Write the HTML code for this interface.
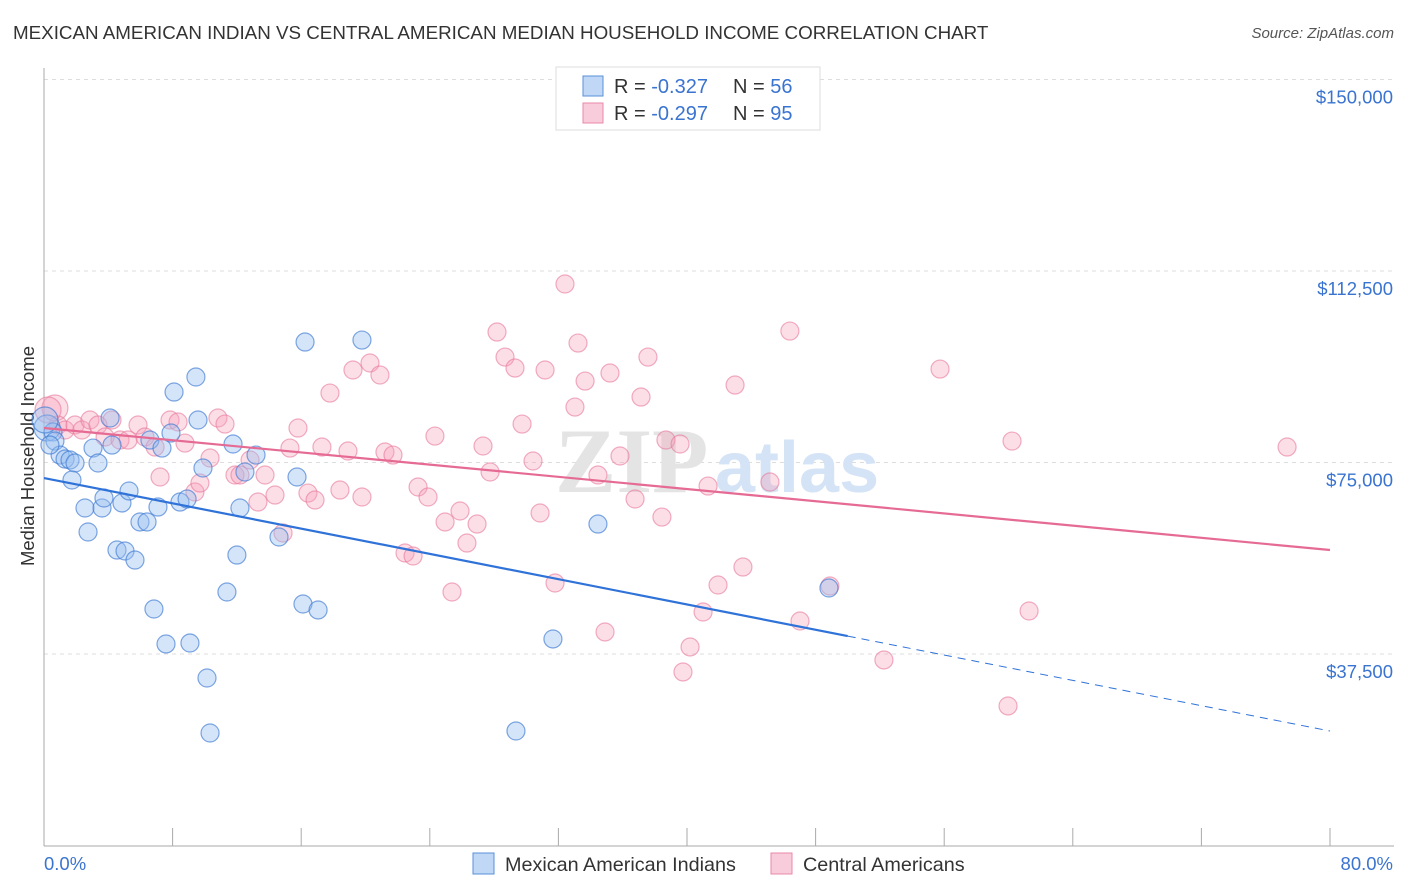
<!DOCTYPE html>
<html><head><meta charset="utf-8"><style>
body{margin:0;background:#fff;font-family:"Liberation Sans",sans-serif;}
#wrap{position:relative;width:1406px;height:892px;overflow:hidden}
.t{position:absolute;white-space:nowrap}
</style></head><body>
<div id="wrap">
<div class="t" style="left:13px;top:22px;font-size:18.8px;color:#333">MEXICAN AMERICAN INDIAN VS CENTRAL AMERICAN MEDIAN HOUSEHOLD INCOME CORRELATION CHART</div>
<div class="t" style="right:12px;top:25px;font-size:15px;color:#555;font-style:italic">Source: ZipAtlas.com</div>
<svg id="svg" width="1406" height="892" style="position:absolute;left:0;top:0"></svg>
</div>
<script>
const xTicks=[0,8,16,24,32,40,48,56,64,72,80];
const yTicks=[37500,75000,112500,150000];
const yTickLabels=["$37,500","$75,000","$112,500","$150,000"];
const blueX=[0.19,0.56,0.68,1.0,1.31,1.62,1.93,1.74,2.55,2.74,3.05,3.36,3.61,3.73,4.11,4.23,4.54,4.85,5.04,5.29,5.66,5.97,6.41,6.59,6.84,7.09,7.34,7.59,7.9,8.09,8.46,8.9,9.08,9.45,9.58,9.89,10.14,10.33,11.38,11.76,12.0,12.19,12.5,13.19,14.62,15.74,16.11,16.24,17.05,19.78,29.36,31.66,34.46,48.83,0.06,0.37];
const blueY=[81750,80970,79200,76460,75680,75490,74900,71570,66090,61390,77830,74900,66090,68045,83710,78420,57860,67070,57670,69420,55900,63350,63350,79400,46310,66280,77830,39460,80770,88800,67260,67850,39650,91740,83320,73920,32800,22030,49640,78620,56880,66090,73140,76460,60410,72160,47290,98590,46120,98980,22420,40440,62950,50420,83320,78420];
const pinkX=[0.68,0.87,1.31,1.93,2.36,2.86,3.36,3.8,4.23,4.73,5.23,5.85,6.28,6.91,7.22,7.84,8.34,8.77,9.39,9.7,10.33,10.82,11.26,11.88,12.19,12.82,13.31,13.75,14.37,14.87,15.3,15.8,16.42,16.86,17.29,17.79,18.41,18.91,19.22,19.78,20.28,20.9,21.21,21.71,22.46,22.96,23.27,23.89,24.32,24.95,25.38,25.88,26.31,26.94,27.31,27.75,28.18,28.68,29.3,29.74,30.42,30.86,31.17,31.79,33.03,33.22,33.66,34.46,34.9,35.21,35.83,36.77,37.14,37.57,38.44,38.69,39.57,39.75,40.19,41.0,41.31,41.93,42.99,43.48,45.16,46.4,47.03,48.89,52.25,55.74,59.97,60.22,61.28,77.33,0.25,32.41];
const pinkY=[85670,82340,81360,82340,81360,83320,82340,79990,83320,79400,79400,82340,79990,78030,72160,83320,82930,78810,69220,70980,75880,83710,82530,72550,72550,75490,67260,72550,68630,61190,77830,81750,69020,67650,78030,88600,69610,77250,93110,68240,94480,92130,77050,76460,57280,56690,70200,68240,80180,63350,49640,65500,59230,62950,78230,73140,100550,95650,93500,82530,75290,65110,93110,51400,85860,98390,90950,72550,41810,92520,76270,67850,87820,95650,64320,79400,78620,33980,38870,45720,70390,51010,90170,54530,71180,100740,43960,50810,36330,93300,27320,79200,45920,78030,85280,109950];
const blueTrend=[[0,71960],[50,41010],[80,22420]];
const pinkTrend=[[0,81750],[80,57860]];
const X=v=>44+v/80*1286, Y=v=>654-(v-37500)/37500*191.5;
const svg=document.getElementById('svg');const NS='http://www.w3.org/2000/svg';
function mk(t,a,name){const e=document.createElementNS(NS,t);for(const k in a)e.setAttribute(k,a[k]);


svg.appendChild(e);return e;}
yTicks.forEach((v,i)=>{mk('line',{x1:44,x2:1394,y1:Y(v),y2:Y(v),stroke:'#ddd','stroke-dasharray':'4,4'},'gridline');
const t=mk('text',{x:1393,y:Y(v)+24,'text-anchor':'end','font-size':18.5,fill:'#3a74d0','font-family':'Liberation Sans'},'y-tick-label');t.textContent=yTickLabels[i];});
mk('line',{x1:44,x2:44,y1:68,y2:846,stroke:'#aaa'},'y-axis');
mk('line',{x1:44,x2:1394,y1:846,y2:846,stroke:'#aaa'},'x-axis');
xTicks.forEach(v=>mk('line',{x1:X(v),x2:X(v),y1:846,y2:828,stroke:'#aaa'},'x-tick'));
let t=mk('text',{x:44,y:870,'font-size':18.5,fill:'#3a74d0','font-family':'Liberation Sans'},'x-min-label');t.textContent='0.0%';
t=mk('text',{x:1393,y:870,'text-anchor':'end','font-size':18.5,fill:'#3a74d0','font-family':'Liberation Sans'},'x-max-label');t.textContent='80.0%';
t=mk('text',{x:34,y:456,'text-anchor':'middle','font-size':18.5,fill:'#333','font-family':'Liberation Sans',transform:'rotate(-90 34 456)'},'y-axis-title');t.textContent='Median Household Income';
t=mk('text',{x:555,y:492,'font-size':92,fill:'#e4e4e4','font-family':'Liberation Serif','font-weight':'bold'},'watermark-zip');t.textContent='ZIP';
t=mk('text',{x:715,y:492,'font-size':72,fill:'#d4e3f5','font-family':'Liberation Sans','font-weight':'bold'},'watermark-atlas');t.textContent='atlas';
pinkX.forEach((x,i)=>mk('circle',{cx:X(x),cy:Y(pinkY[i]),r:i==0||i==94?13:9,fill:'rgba(245,160,185,0.35)',stroke:'rgba(232,120,155,0.6)','stroke-width':1.2},'pink-point'));
blueX.forEach((x,i)=>mk('circle',{cx:X(x),cy:Y(blueY[i]),r:i==0||i==54?13:9,fill:'rgba(150,190,240,0.4)',stroke:'rgba(60,120,210,0.65)','stroke-width':1.2},'blue-point'));
mk('line',{x1:X(blueTrend[0][0]),y1:Y(blueTrend[0][1]),x2:X(blueTrend[1][0]),y2:Y(blueTrend[1][1]),stroke:'#2f72d8','stroke-width':2.2},'blue-trend-line');
mk('line',{x1:X(blueTrend[1][0]),y1:Y(blueTrend[1][1]),x2:X(blueTrend[2][0]),y2:Y(blueTrend[2][1]),stroke:'#2f72d8','stroke-width':1,'stroke-dasharray':'8,6'},'blue-trend-extension');
mk('line',{x1:X(pinkTrend[0][0]),y1:Y(pinkTrend[0][1]),x2:X(pinkTrend[1][0]),y2:Y(pinkTrend[1][1]),stroke:'#e66b94','stroke-width':2.2},'pink-trend-line');
mk('rect',{x:556,y:67,width:264,height:63,fill:'#fff',stroke:'#ddd'},'legend-box');
[['-0.327','56','rgba(150,190,240,0.6)','#5a8fd8',86],['-0.297','95','rgba(245,170,195,0.6)','#e88aa8',113]].forEach(r=>{
mk('rect',{x:583,y:r[4]-10,width:20,height:20,fill:r[2],stroke:r[3]},'legend-swatch');
let tx=mk('text',{x:614,y:r[4]+7,'font-size':20,fill:'#333','font-family':'Liberation Sans'},'legend-r-label');
tx.innerHTML='R = <tspan fill="#3a74d0">'+r[0]+'</tspan>';
tx=mk('text',{x:733,y:r[4]+7,'font-size':20,fill:'#333','font-family':'Liberation Sans'},'legend-n-label');
tx.innerHTML='N = <tspan fill="#3a74d0">'+r[1]+'</tspan>';});
[[473,'Mexican American Indians','rgba(150,190,240,0.6)','#5a8fd8'],[771,'Central Americans','rgba(245,170,195,0.6)','#e88aa8']].forEach(l=>{
mk('rect',{x:l[0],y:853,width:21,height:21,fill:l[2],stroke:l[3]},'bottom-legend-swatch');
const tx=mk('text',{x:l[0]+32,y:871,'font-size':19.8,fill:'#333','font-family':'Liberation Sans'},'bottom-legend-label');tx.textContent=l[1];});
</script>
</body></html>
